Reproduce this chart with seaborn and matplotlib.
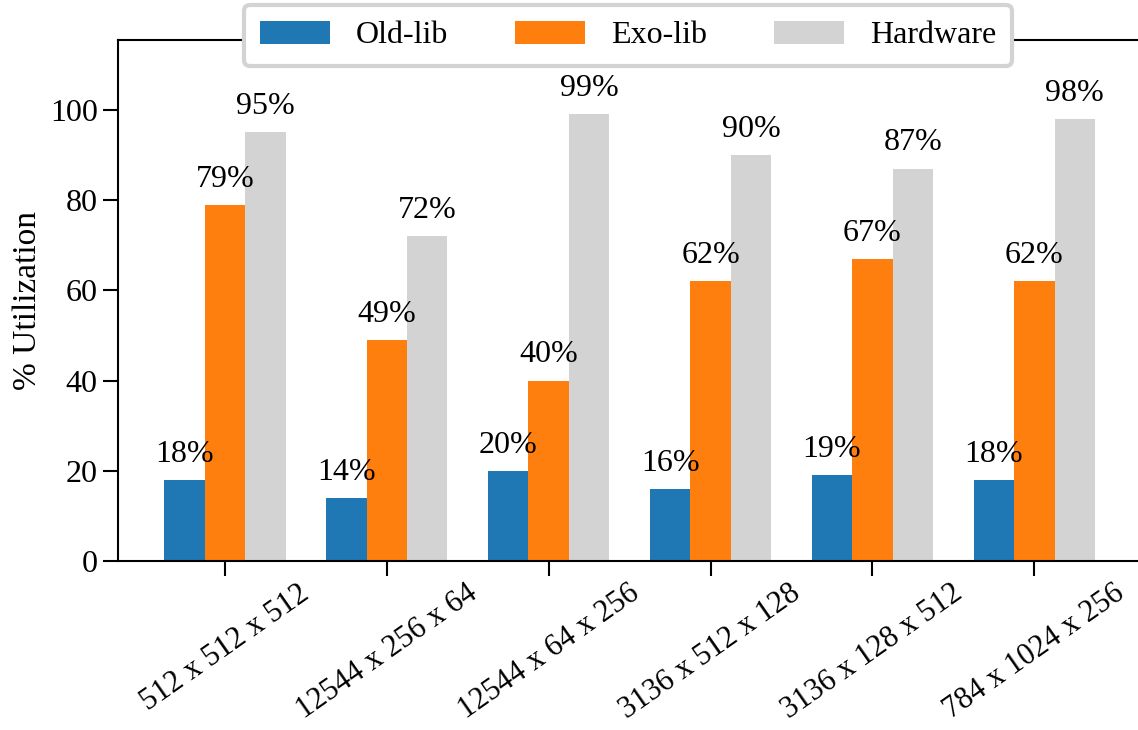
import matplotlib
matplotlib.use("Agg")
import matplotlib.pyplot as plt
import seaborn as sns
import pandas as pd

categories = ["512 x 512 x 512", "12544 x 256 x 64", "12544 x 64 x 256",
              "3136 x 512 x 128", "3136 x 128 x 512", "784 x 1024 x 256"]
series_names = ["Old-lib", "Exo-lib", "Hardware"]
old_lib = [18, 14, 20, 16, 19, 18]
exo_lib = [79, 49, 40, 62, 67, 62]
hardware = [95, 72, 99, 90, 87, 98]
colors = ["#1f77b4", "#ff7f0e", "#d3d3d3"]

rows = []
for name, vals in zip(series_names, [old_lib, exo_lib, hardware]):
    for c, v in zip(categories, vals):
        rows.append({"Shape": c, "System": name, "Util": v})
df = pd.DataFrame(rows)

sns.set_theme(style="ticks")
plt.rcParams["font.family"] = ["Liberation Serif", "DejaVu Serif"]
plt.rcParams["text.color"] = "black"
plt.rcParams["axes.labelcolor"] = "black"
plt.rcParams["xtick.color"] = "black"
plt.rcParams["ytick.color"] = "black"
FS = 23

fig = plt.figure(figsize=(11.38, 7.30), dpi=100)
ax = fig.add_axes([118 / 1138, 169 / 730, 1 - 118 / 1138, (561 - 40) / 730])

sns.barplot(data=df, x="Shape", y="Util", hue="System", order=categories,
            hue_order=series_names, palette=colors, width=0.75, gap=0,
            saturation=1, ax=ax, errorbar=None, linewidth=0)

for cont in ax.containers:
    ax.bar_label(cont, labels=[f"{int(round(b.get_height()))}%" for b in cont],
                 padding=8, fontsize=FS, color="black")

ax.set_xlim(-0.66, 5.64)
ax.set_ylim(0, 115.5)
ax.set_yticks([0, 20, 40, 60, 80, 100])
ax.set_xlabel("")
ax.set_ylabel("% Utilization", fontsize=24, labelpad=5)
ax.tick_params(axis="both", labelsize=FS, length=11, width=1.5, color="black",
               labelcolor="black")
ax.tick_params(axis="x", pad=2, labelsize=22)
plt.setp(ax.get_xticklabels(), rotation=35, ha="center")
for s in ["left", "bottom", "top"]:
    ax.spines[s].set_linewidth(1.5)
    ax.spines[s].set_color("black")
ax.spines["right"].set_visible(False)

leg = ax.legend(loc="upper center", bbox_to_anchor=(0.5, 1.068), ncol=3,
                fontsize=FS, handlelength=2.2, handleheight=0.75,
                handletextpad=0.8, columnspacing=2.1, frameon=True,
                fancybox=True, framealpha=1, borderpad=0.5, borderaxespad=0)
leg.get_frame().set_edgecolor("#d3d3d3")
leg.get_frame().set_linewidth(3)
leg.set_title(None)
for t in leg.get_texts():
    t.set_color("black")

fig.savefig("out.png", dpi=100)
